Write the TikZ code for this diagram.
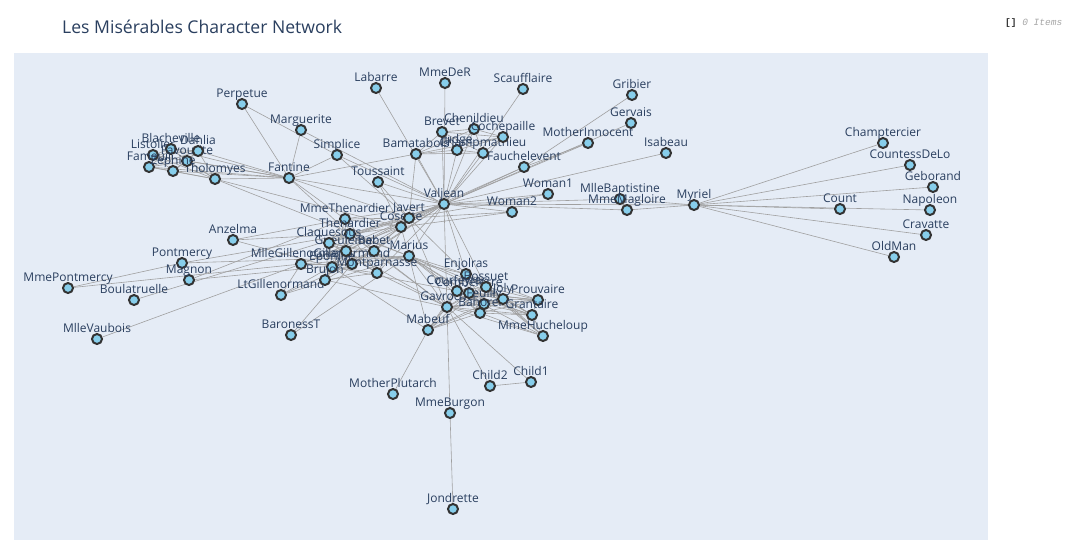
\documentclass[tikz,border=0pt]{standalone}
\usepackage{fontspec}
\setmainfont{Open Sans}
\setmonofont{Liberation Mono}
\usetikzlibrary{backgrounds}
\definecolor{panelbg}{HTML}{E5ECF6}
\definecolor{titleblue}{HTML}{2A3F5F}
\definecolor{nodefill}{HTML}{87CEEB}
\definecolor{nodeline}{HTML}{333333}
\definecolor{edgegray}{HTML}{A0A0A0}

\tikzset{
  person/.style={circle, draw=nodeline, fill=nodefill, line width=2pt,
                 minimum size=10pt, inner sep=0pt, label distance=8.5pt},
  who/.style={font=\fontsize{12}{12}\selectfont, text=titleblue,
              inner sep=0pt, text depth=0pt},
  rel/.style={draw=edgegray, line width=0.6pt},
}

\begin{document}
\begin{tikzpicture}[x=1pt, y=-1pt]
  \useasboundingbox (0,0) rectangle (1080,560);

  \node[anchor=base west, inner sep=0pt, text=titleblue,
        font=\fontsize{17.6}{17.6}\selectfont] (title) at (62,33)
        {Les Misérables Character Network};
  \node[anchor=base west, inner sep=0pt, font=\ttfamily\fontsize{9.5}{9.5}\selectfont] (items) at (1005,25)
        {\textcolor{black!80}{\bfseries[]} \textcolor{black!35}{\itshape 0 Items}};

  % characters, placed at the layout positions
  \foreach \n/\x/\y in {
      Myriel/694/205, Napoleon/930/210, MlleBaptistine/620/199, MmeMagloire/627/210,
      CountessDeLo/910/165, Geborand/933/187, Champtercier/883/143, Cravatte/926/235,
      Count/840/209, OldMan/894/257, Labarre/376/88, Valjean/444/204,
      Marguerite/301/130, MmeDeR/445/83, Isabeau/666/153, Gervais/631/123,
      Tholomyes/215/179, Listolier/153/155, Fameuil/149/167, Blacheville/171/149,
      Favourite/187/161, Dahlia/198/151, Zephine/173/171, Fantine/289/178,
      MmeThenardier/345/219, Thenardier/350/234, Cosette/401/227, Javert/409/218,
      Fauchelevent/524/167, Bamatabois/416/154, Perpetue/242/104, Simplice/337/155,
      Scaufflaire/523/89, Woman1/548/194, Judge/457/150, Champmathieu/483/153,
      Brevet/442/132, Chenildieu/474/129, Cochepaille/503/137, Pontmercy/182/263,
      Boulatruelle/134/300, Eponine/332/267, Anzelma/233/240, Woman2/512/212,
      MotherInnocent/588/143, Gribier/632/95, Jondrette/453/509, MmeBurgon/450/413,
      Gavroche/447/307, Gillenormand/352/264, Magnon/189/280, MlleGillenormand/301/264,
      MmePontmercy/68/288, MlleVaubois/97/339, LtGillenormand/281/295, Marius/409/256,
      BaronessT/291/335, Mabeuf/428/330, Enjolras/466/274, Combeferre/469/293,
      Prouvaire/538/300, Feuilly/484/304, Courfeyrac/457/291, Bahorel/480/313,
      Bossuet/486/287, Joly/503/299, Grantaire/532/315, MotherPlutarch/393/394,
      Gueulemer/346/251, Babet/374/251, Claquesous/329/243, Montparnasse/377/273,
      Toussaint/378/182, Child1/531/382, Child2/490/386, Brujon/325/280,
      MmeHucheloup/543/336}
    \node[person, label={[who]above:\n}] (\n) at (\x,\y) {};

  \begin{scope}[on background layer]
    \fill[white] (0,0) rectangle (1080,560);
    \fill[panelbg] (14,53) rectangle (988,540);
    \foreach \a/\b in {
        Napoleon/Myriel, MlleBaptistine/Myriel, MmeMagloire/Myriel, MmeMagloire/MlleBaptistine,
        CountessDeLo/Myriel, Geborand/Myriel, Champtercier/Myriel, Cravatte/Myriel,
        Count/Myriel, OldMan/Myriel, Valjean/Labarre, Valjean/MmeMagloire,
        Valjean/MlleBaptistine, Valjean/Myriel, Marguerite/Valjean, MmeDeR/Valjean,
        Isabeau/Valjean, Gervais/Valjean, Listolier/Tholomyes, Fameuil/Tholomyes,
        Fameuil/Listolier, Blacheville/Tholomyes, Blacheville/Listolier, Blacheville/Fameuil,
        Favourite/Tholomyes, Favourite/Listolier, Favourite/Fameuil, Favourite/Blacheville,
        Dahlia/Tholomyes, Dahlia/Listolier, Dahlia/Fameuil, Dahlia/Blacheville,
        Dahlia/Favourite, Zephine/Tholomyes, Zephine/Listolier, Zephine/Fameuil,
        Zephine/Blacheville, Zephine/Favourite, Zephine/Dahlia, Fantine/Tholomyes,
        Fantine/Listolier, Fantine/Fameuil, Fantine/Blacheville, Fantine/Favourite,
        Fantine/Dahlia, Fantine/Zephine, Fantine/Marguerite, Fantine/Valjean,
        MmeThenardier/Fantine, MmeThenardier/Valjean, Thenardier/MmeThenardier, Thenardier/Fantine,
        Thenardier/Valjean, Cosette/MmeThenardier, Cosette/Valjean, Cosette/Tholomyes,
        Cosette/Thenardier, Javert/Valjean, Javert/Fantine, Javert/Thenardier,
        Javert/MmeThenardier, Javert/Cosette, Fauchelevent/Valjean, Fauchelevent/Javert,
        Bamatabois/Fantine, Bamatabois/Javert, Bamatabois/Valjean, Perpetue/Fantine,
        Simplice/Perpetue, Simplice/Valjean, Simplice/Fantine, Simplice/Javert,
        Scaufflaire/Valjean, Woman1/Valjean, Woman1/Javert, Judge/Valjean,
        Judge/Bamatabois, Champmathieu/Valjean, Champmathieu/Judge, Champmathieu/Bamatabois,
        Brevet/Judge, Brevet/Champmathieu, Brevet/Valjean, Brevet/Bamatabois,
        Chenildieu/Judge, Chenildieu/Champmathieu, Chenildieu/Brevet, Chenildieu/Valjean,
        Chenildieu/Bamatabois, Cochepaille/Judge, Cochepaille/Champmathieu, Cochepaille/Brevet,
        Cochepaille/Chenildieu, Cochepaille/Valjean, Cochepaille/Bamatabois, Pontmercy/Thenardier,
        Boulatruelle/Thenardier, Eponine/MmeThenardier, Eponine/Thenardier, Anzelma/Eponine,
        Anzelma/Thenardier, Anzelma/MmeThenardier, Woman2/Valjean, Woman2/Cosette,
        Woman2/Javert, MotherInnocent/Fauchelevent, MotherInnocent/Valjean, Gribier/Fauchelevent,
        MmeBurgon/Jondrette, Gavroche/MmeBurgon, Gavroche/Thenardier, Gavroche/Javert,
        Gavroche/Valjean, Gillenormand/Cosette, Gillenormand/Valjean, Magnon/Gillenormand,
        Magnon/MmeThenardier, MlleGillenormand/Gillenormand, MlleGillenormand/Cosette, MlleGillenormand/Valjean,
        MmePontmercy/MlleGillenormand, MmePontmercy/Pontmercy, MlleVaubois/MlleGillenormand, LtGillenormand/MlleGillenormand,
        LtGillenormand/Gillenormand, LtGillenormand/Cosette, Marius/MlleGillenormand, Marius/Gillenormand,
        Marius/Pontmercy, Marius/LtGillenormand, Marius/Cosette, Marius/Valjean,
        Marius/Tholomyes, Marius/Thenardier, Marius/Eponine, Marius/Gavroche,
        BaronessT/Gillenormand, BaronessT/Marius, Mabeuf/Marius, Mabeuf/Eponine,
        Mabeuf/Gavroche, Enjolras/Marius, Enjolras/Gavroche, Enjolras/Javert,
        Enjolras/Mabeuf, Enjolras/Valjean, Combeferre/Enjolras, Combeferre/Marius,
        Combeferre/Gavroche, Combeferre/Mabeuf, Prouvaire/Gavroche, Prouvaire/Enjolras,
        Prouvaire/Combeferre, Feuilly/Gavroche, Feuilly/Enjolras, Feuilly/Prouvaire,
        Feuilly/Combeferre, Feuilly/Mabeuf, Feuilly/Marius, Courfeyrac/Marius,
        Courfeyrac/Enjolras, Courfeyrac/Combeferre, Courfeyrac/Gavroche, Courfeyrac/Mabeuf,
        Courfeyrac/Eponine, Courfeyrac/Feuilly, Courfeyrac/Prouvaire, Bahorel/Combeferre,
        Bahorel/Gavroche, Bahorel/Courfeyrac, Bahorel/Mabeuf, Bahorel/Enjolras,
        Bahorel/Feuilly, Bahorel/Prouvaire, Bahorel/Marius, Bossuet/Marius,
        Bossuet/Courfeyrac, Bossuet/Gavroche, Bossuet/Bahorel, Bossuet/Enjolras,
        Bossuet/Feuilly, Bossuet/Prouvaire, Bossuet/Combeferre, Bossuet/Mabeuf,
        Bossuet/Valjean, Joly/Bahorel, Joly/Bossuet, Joly/Gavroche,
        Joly/Courfeyrac, Joly/Enjolras, Joly/Feuilly, Joly/Prouvaire,
        Joly/Combeferre, Joly/Mabeuf, Joly/Marius, Grantaire/Bossuet,
        Grantaire/Enjolras, Grantaire/Combeferre, Grantaire/Courfeyrac, Grantaire/Joly,
        Grantaire/Gavroche, Grantaire/Bahorel, Grantaire/Feuilly, Grantaire/Prouvaire,
        MotherPlutarch/Mabeuf, Gueulemer/Thenardier, Gueulemer/Valjean, Gueulemer/MmeThenardier,
        Gueulemer/Javert, Gueulemer/Gavroche, Gueulemer/Eponine, Babet/Thenardier,
        Babet/Gueulemer, Babet/Valjean, Babet/MmeThenardier, Babet/Javert,
        Babet/Gavroche, Babet/Eponine, Claquesous/Thenardier, Claquesous/Babet,
        Claquesous/Gueulemer, Claquesous/Valjean, Claquesous/MmeThenardier, Claquesous/Javert,
        Claquesous/Eponine, Claquesous/Enjolras, Montparnasse/Javert, Montparnasse/Babet,
        Montparnasse/Gueulemer, Montparnasse/Claquesous, Montparnasse/Valjean, Montparnasse/Gavroche,
        Montparnasse/Eponine, Montparnasse/Thenardier, Toussaint/Cosette, Toussaint/Javert,
        Toussaint/Valjean, Child1/Gavroche, Child2/Gavroche, Child2/Child1,
        Brujon/Babet, Brujon/Gueulemer, Brujon/Thenardier, Brujon/Gavroche,
        Brujon/Eponine, Brujon/Claquesous, Brujon/Montparnasse, MmeHucheloup/Bossuet,
        MmeHucheloup/Joly, MmeHucheloup/Grantaire, MmeHucheloup/Bahorel, MmeHucheloup/Courfeyrac,
        MmeHucheloup/Gavroche, MmeHucheloup/Enjolras}
      \draw[rel] (\a) -- (\b);
  \end{scope}
\end{tikzpicture}
\end{document}
